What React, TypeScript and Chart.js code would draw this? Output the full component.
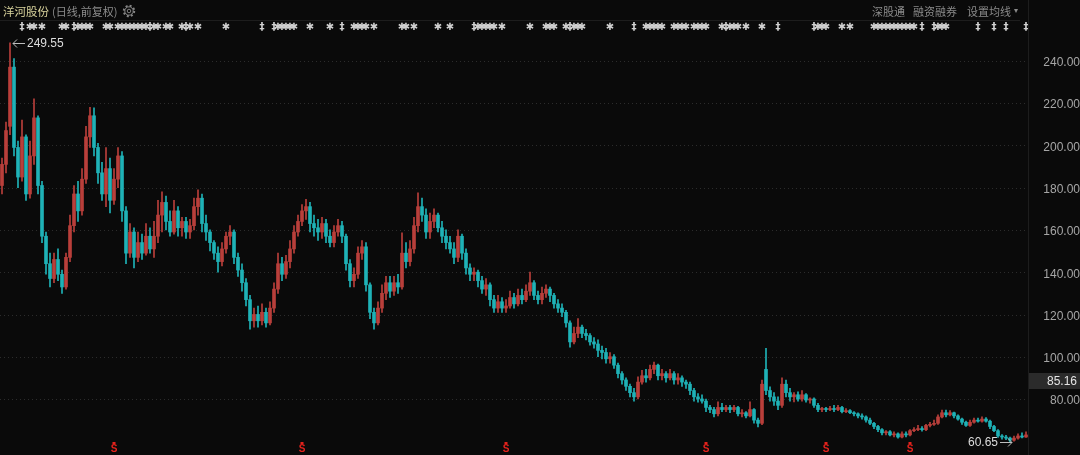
import React, { useEffect, useRef } from "react";
import { Chart, registerables } from "chart.js";

Chart.register(...registerables);

// Daily-ish candles (aggregated)
const opens = [
  182,192,210,238,200,186,205,178,196,214,
  182,158,145,138,147,140,134,148,163,178,
  170,185,205,215,200,188,178,190,175,185,
  196,170,150,160,148,155,150,158,152,158,
  168,174,165,160,170,162,165,160,163,172,
  176,164,160,155,150,146,152,158,160,148,
  142,136,128,118,121,118,122,117,124,133,
  145,140,146,152,160,165,170,172,164,162,
  160,164,158,155,160,163,158,145,137,140,
  150,153,135,122,117,124,131,136,132,136,
  134,150,146,152,163,172,168,160,165,168,
  162,158,155,152,148,158,150,143,140,141,
  137,133,135,128,124,127,124,125,129,126,
  130,128,132,136,130,128,131,133,130,126,
  124,122,117,108,112,115,112,111,108,107,
  104,103,100,101,97,93,90,87,84,82,
  89,92,91,95,97,92,93,91,93,90,
  91,89,88,85,82,81,80,77,76,74,
  77,76,77,76,77,74,74.5,73,76,71,
  69.5,95,85,82,80,78,88,84,82,83,
  81,83,80.5,81,78,76,76.5,76,76.5,76,
  77,75,75.5,74.5,74,73,72.5,71,69.5,68,
  66.5,65,65.5,64,64.5,63,64.5,64,66,66.5,
  67,66.5,68.5,69,69.5,72.5,74.5,73.5,74.5,73,
  71.5,70,68.5,70,71,70.5,71.5,70.5,68,66,
  63.5,63,62.5,61.5,62.5,63.5,63,
];
const closes = [
  192,208,238,200,186,205,178,196,214,182,
  158,145,138,147,140,134,148,163,178,170,
  185,205,215,200,188,178,190,175,185,196,
  170,150,160,148,155,150,158,152,158,168,
  174,165,160,170,162,165,160,163,172,176,
  164,160,155,150,146,152,158,160,148,142,
  136,128,118,121,118,122,117,124,133,145,
  140,146,152,160,165,170,172,164,162,160,
  164,158,155,160,163,158,145,137,140,150,
  153,135,122,117,124,131,136,132,136,134,
  150,146,152,163,172,168,160,165,168,162,
  158,155,152,148,158,150,143,140,141,137,
  133,135,128,124,127,124,125,129,126,130,
  128,132,136,130,128,131,133,130,126,124,
  122,117,108,112,115,112,111,108,107,104,
  103,100,101,97,93,90,87,84,82,89,
  92,91,95,97,92,93,91,93,90,91,
  89,88,85,82,81,80,77,76,74,77,
  76,77,76,77,74,74.5,73,76,71,69.5,
  88,85,82,80,78,88,84,82,83,81,
  83,80.5,81,78,76,76.5,76,76.5,76,77,
  75,75.5,74.5,74,73,72.5,71,69.5,68,66.5,
  65,65.5,64,64.5,63,64.5,64,66,66.5,67,
  66.5,68.5,69,69.5,72.5,74.5,73.5,74.5,73,71.5,
  70,68.5,70,71,70.5,71.5,70.5,68,66,63.5,
  63,62.5,61.5,62.5,63.5,63,64,
];
const highs = [
  195,212,249.55,242,203,213,206,203,223,215,
  184,160,150,150,152,142,150,168,182,184,
  190,210,219,218.7,202,193,200,195,190,200,
  198,172,164,162,160,159,164,162,165,175,
  179,177,170,175,172,167,167,166,176,180,
  178,168,161,156,153,155,160,163,161,150,
  145,138,130,124,125,126,124,127,136,150,
  148,149,156,163,168,173,175.5,174,168,166,
  167,166,161,163,166,165,159,147,143,153,
  156,155,136,124,127,135,139,139,139,140,
  159.6,155,156,167,178.5,176,171,169,171,169,
  165,161,158,155,161,159,152,145,143,142,
  139,138,136,130,130,129,128,132,131,133,
  133,135,141,137,132,134,135,134,131,128,
  126,123,118,115,119,116,114,112,110,109,
  106,105,103,102,98,94,91,88,86,91.5,
  94.5,95,97,98.5,97.5,95,94,95,94,93,
  92,90,89,86,83.5,83,81,78,77,79.6,
  79,78,78,78,77.5,76,75,79.6,76.5,72,
  90,105,86.7,84,82,91,90,86,84,84.4,
  85,83.5,81.5,81.5,79,77,77,77.5,78,78,
  77.5,76.5,76,75,74.5,74,73,72,70,68.5,
  67,66,66,65.5,65,65.5,65.5,66.5,67.5,68.5,
  68,69,70,71,73.5,75.8,75.8,75.5,74.8,73.5,
  72,70.5,71,72,72,72.5,72.2,71,68.5,66.5,
  64.2,63.8,63,63.5,64.5,65,65.5,
];
const lows = [
  178,188,206,196,181,184,175,176,192,178,
  155,140,134,136,137,131,133,146,160,165,
  168,183,200,196,183,175,172,169,173,181,
  165,145,148,143,146,147,149,150,148,155,
  160,161,158,159,158,158,157,157,161,168,
  160,156,151,147,141,144,150,154,145,139,
  132,125,114,115,115,116,115,116,122,131,
  137,138,143,150,158,163,166,160,158,156,
  157,155,153,153,158,155,142,134,134,138,
  147,132,119,114,116,122,128,129,130,131,
  133,143,144,150,160,165,157,157,162,160,
  155,152,150,145,146,147,140,137,137,134,
  131,130,125,122,122,122,122,124,124,125,
  126,127,130,128,126,126,129,127,124,122,
  120,115,105.5,107,110,110,109,106.5,105,101,
  100,98,98,95.5,91,88,85,82,80,81,
  88,89,90,93,90,90,89,90,88,88,
  87,86,83,80,79.5,79,75,74.5,72.5,73,
  75,75,74.5,75,73,72.5,72,72.5,69.5,67.8,
  68.8,83,80,78,76,77,82,80,79.6,80,
  80,79.5,79,77,75,75,75,75.5,75,75.5,
  74.4,74.5,74,73,72,71.5,70,68.8,67,65.5,
  64,64,63.5,63,62.5,62.6,63,63.5,65.5,66,
  65.8,66,67.8,68.5,69,72,72.5,73,72,71,
  69,68,68,69.5,70,70,70,67,65.5,62.8,
  62,61.8,60.65,61,62,62.6,62.8,
];

// y-axis ticks and range
const yTicks = [80, 100, 120, 140, 160, 180, 200, 220, 240];
const yMin = 54.5;
const yMax = 260.3;
const priceTag = 85.16;

// event markers (candle indices)
const starIdx = [
  7, 8, 10, 15, 16, 19, 20, 21, 22, 26, 27, 29, 30, 31, 32, 33, 34, 35,
  36, 38, 39, 41, 42, 45, 47, 49, 56, 69, 70, 71, 72, 73, 77, 82, 88, 89,
  90, 91, 93, 100, 101, 103, 109, 112, 119, 120, 121, 122, 123, 125, 132,
  136, 137, 138, 141, 143, 144, 145, 152, 161, 162, 163, 164, 165, 168, 169,
  170, 171, 173, 174, 175, 176, 180, 182, 183, 184, 186, 190, 204, 205, 206,
  210, 212, 218, 219, 220, 221, 222, 223, 224, 225, 226, 227, 228, 234, 235, 236,
];
const daggerIdx = [5, 18, 37, 46, 65, 68, 85, 118, 142, 158, 181, 194, 203, 230, 233, 244, 248, 251, 256];
const dividendIdx = [28, 75, 126, 176, 206, 227];

const RED = "#b93f3b";
const TEAL = "#1fb2b7";

export default function App() {
  const ref = useRef<HTMLCanvasElement>(null);

  useEffect(() => {
    const canvas = ref.current;
    if (!canvas) return;
    const labels = closes.map((_, i) => String(i));
    const colors = closes.map((c, i) => (c >= opens[i] ? RED : TEAL));

    const overlay = {
      id: "overlay",
      beforeDatasetsDraw(chart: any) {
        const { ctx, chartArea, scales } = chart;
        const y = scales.y;
        ctx.save();
        ctx.strokeStyle = "#2c2c2c";
        ctx.lineWidth = 1;
        ctx.setLineDash([1, 3]);
        yTicks.forEach((v) => {
          const py = Math.round(y.getPixelForValue(v)) - 1.5;
          ctx.beginPath();
          ctx.moveTo(chartArea.left, py);
          ctx.lineTo(chartArea.right, py);
          ctx.stroke();
        });
        ctx.restore();
      },
      afterDatasetsDraw(chart: any) {
        const { ctx, scales } = chart;
        const x = scales.x;
        const y = scales.y;
        ctx.save();
        // top event markers
        ctx.textAlign = "center";
        ctx.textBaseline = "middle";
        ctx.fillStyle = "#d0d0d0";
        ctx.font = 'bold 10px "DejaVu Sans"';
        starIdx.forEach((i) => ctx.fillText("\u2731", x.getPixelForValue(i), 27));
        daggerIdx.forEach((i) => ctx.fillText("\u2021", x.getPixelForValue(i), 27));

        // dividend markers
        ctx.fillStyle = "#e3221c";
        ctx.font = 'bold 10px "Liberation Sans"';
        dividendIdx.forEach((i) => {
          const px = x.getPixelForValue(i);
          ctx.fillText("S", px, 449.5);
          ctx.fillRect(px - 1.5, 442, 3, 2);
        });

        // max / min labels
        let iMax = 0;
        highs.forEach((h, i) => { if (h > highs[iMax]) iMax = i; });
        let iMin = 0;
        lows.forEach((l, i) => { if (l < lows[iMin]) iMin = i; });
        ctx.strokeStyle = "#bdbdbd";
        ctx.lineWidth = 1;
        ctx.font = '12px "Liberation Sans"';
        ctx.fillStyle = "#dcdcdc";
        {
          const px = x.getPixelForValue(iMax);
          const py = Math.round(y.getPixelForValue(highs[iMax])) + 0.5;
          const ax = px + 3;
          ctx.beginPath();
          ctx.moveTo(ax, py);
          ctx.lineTo(ax + 12, py);
          ctx.moveTo(ax + 4, py - 4);
          ctx.lineTo(ax, py);
          ctx.lineTo(ax + 4, py + 4);
          ctx.stroke();
          ctx.textAlign = "left";
          ctx.fillText(highs[iMax].toFixed(2), ax + 14, py);
        }
        {
          const px = x.getPixelForValue(iMin);
          const py = Math.round(y.getPixelForValue(lows[iMin])) + 0.5;
          const ax = px + 2;
          ctx.beginPath();
          ctx.moveTo(ax, py);
          ctx.lineTo(ax - 12, py);
          ctx.moveTo(ax - 4, py - 4);
          ctx.lineTo(ax, py);
          ctx.lineTo(ax - 4, py + 4);
          ctx.stroke();
          ctx.textAlign = "right";
          ctx.fillText(lows[iMin].toFixed(2), ax - 14, py);
        }

        // price tag on the axis (kept clear of the 80.00 label)
        const ty = y.getPixelForValue(priceTag) - 9;
        ctx.fillStyle = "#2b2b2b";
        ctx.fillRect(1029, Math.round(ty) - 8, 51, 16);
        ctx.fillStyle = "#e4e4e4";
        ctx.textAlign = "right";
        ctx.fillText(priceTag.toFixed(2), 1077, ty);
        ctx.restore();
      },
    };

    const chart = new Chart(canvas, {
      type: "bar",
      data: {
        labels,
        datasets: [
          {
            data: lows.map((l, i) => [l, highs[i]]),
            backgroundColor: colors,
            barThickness: 1,
            grouped: false,
            order: 2,
          } as any,
          {
            data: opens.map((o, i) => [o, closes[i]]),
            backgroundColor: colors,
            barThickness: 3,
            grouped: false,
            order: 1,
          } as any,
        ],
      },
      options: {
        animation: false,
        responsive: true,
        maintainAspectRatio: false,
        layout: { padding: { top: 20, left: 0, right: 0, bottom: 0 } },
        plugins: { legend: { display: false }, tooltip: { enabled: false } },
        scales: {
          x: { display: false, offset: true },
          y: {
            position: "right",
            min: yMin,
            max: yMax,
            afterBuildTicks: (axis: any) => {
              axis.ticks = yTicks.map((v) => ({ value: v }));
            },
            afterFit: (axis: any) => {
              axis.width = 52;
              axis.paddingTop = 0;
              axis.paddingBottom = 0;
            },
            grid: { display: false, drawTicks: false },
            border: { display: false },
            ticks: {
              padding: 9,
              crossAlign: "far",
              color: "#a6a6a6",
              font: { family: '"Liberation Sans", Arial, sans-serif', size: 12 },
              callback: (v: any) => Number(v).toFixed(2),
            },
          },
        },
      } as any,
      plugins: [overlay],
    });
    return () => chart.destroy();
  }, []);

  const cjk = '"Noto Sans CJK SC", "Noto Sans", sans-serif';
  return (
    <div
      style={{
        position: "fixed",
        left: 0,
        top: 0,
        width: 1080,
        height: 455,
        background: "#0a0a0a",
        overflow: "hidden",
        fontFamily: cjk,
      }}
    >
      <canvas ref={ref} style={{ position: "absolute", left: 0, top: 0, width: 1080, height: 455 }} />
      <div
        style={{
          position: "absolute",
          left: 0,
          top: 0,
          width: 1020,
          height: 20,
          borderBottom: "1px solid #1d1d1d",
        }}
      />
      <div
        style={{ position: "absolute", left: 1028, top: 0, width: 1, height: 455, background: "#1d1d1d" }}
      />
      <span style={{ position: "absolute", left: 3, top: 1, fontSize: 11.5, lineHeight: "20px", color: "#d8d29c", whiteSpace: "nowrap" }}>
        洋河股份
      </span>
      <span style={{ position: "absolute", left: 52, top: 1, fontSize: 11, lineHeight: "20px", color: "#8c8c8c", whiteSpace: "nowrap" }}>
        (日线,前复权)
      </span>
      <svg width="14" height="14" viewBox="0 0 14 14" style={{ position: "absolute", left: 122, top: 4 }}>
        <circle cx="7" cy="7" r="5.2" fill="none" stroke="#858585" strokeWidth="2" strokeDasharray="2 2.08" />
        <circle cx="7" cy="7" r="4.2" fill="none" stroke="#858585" strokeWidth="1" />
        <circle cx="7" cy="7" r="1.8" fill="none" stroke="#858585" strokeWidth="1" />
      </svg>
      <span style={{ position: "absolute", left: 872, top: 1, fontSize: 11, lineHeight: "20px", color: "#8a8a8a", whiteSpace: "nowrap" }}>
        深股通
      </span>
      <span style={{ position: "absolute", left: 913, top: 1, fontSize: 11, lineHeight: "20px", color: "#8a8a8a", whiteSpace: "nowrap" }}>
        融资融券
      </span>
      <span style={{ position: "absolute", left: 967, top: 1, fontSize: 11, lineHeight: "20px", color: "#8a8a8a", whiteSpace: "nowrap" }}>
        设置均线
      </span>
      <span style={{ position: "absolute", left: 1014, top: 0, fontSize: 8, lineHeight: "20px", color: "#8a8a8a" }}>
        ▾
      </span>
    </div>
  );
}
